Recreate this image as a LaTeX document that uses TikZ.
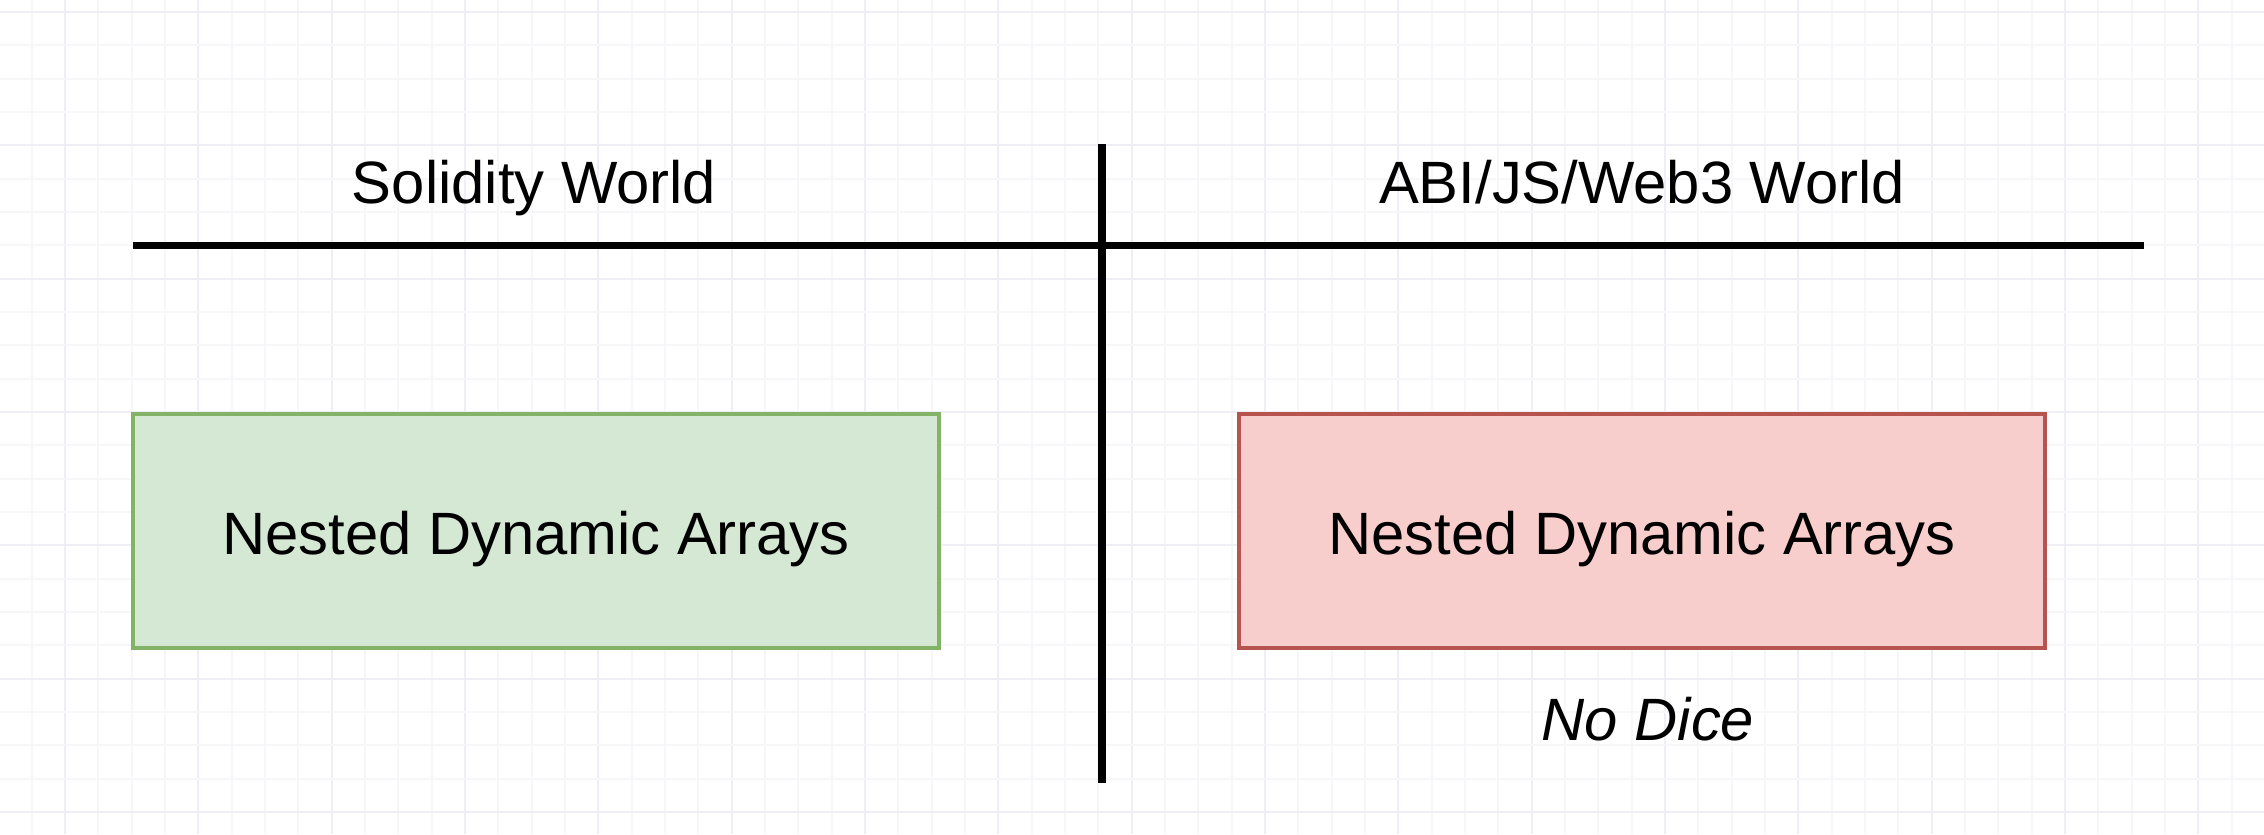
\documentclass[tikz,border=0pt]{standalone}
\usepackage{fontspec}
\setmainfont{Liberation Sans}
\usepackage{tikz}
\usetikzlibrary{calc, positioning}
\usepackage{xcolor}
\definecolor{okFill}{RGB}{213, 232, 212}
\definecolor{okLine}{RGB}{130, 179, 102}
\definecolor{badFill}{RGB}{248, 206, 204}
\definecolor{badLine}{RGB}{184, 84, 80}
\definecolor{gridMinor}{RGB}{247, 247, 250}
\definecolor{gridMajor}{RGB}{238, 238, 244}

\begin{document}
\begin{tikzpicture}[font=\fontsize{17}{20}\selectfont,
    worldbox/.style={draw, line width=1.2pt, minimum width=8.06cm,
      minimum height=2.34cm, inner sep=0pt, text height=13.6pt, text depth=0pt},
    divider/.style={line width=2.2pt}]
  % page and faint canvas grid
  \useasboundingbox[fill=white] (0, 0) rectangle (22.64, 8.34);
  \foreach \i in {0,...,68} {
    \pgfmathtruncatemacro{\m}{mod(\i, 4)}
    \ifnum\m=2 \def\gc{gridMajor}\else \def\gc{gridMinor}\fi
    \draw[\gc, line width=0.5pt] ({-0.0167+\i/3}, 0) -- ++(0, 8.34);
  }
  \foreach \j in {0,...,24} {
    \pgfmathtruncatemacro{\m}{mod(\j, 4)}
    \ifnum\m=0 \def\gc{gridMajor}\else \def\gc{gridMinor}\fi
    \draw[\gc, line width=0.5pt] (0, {0.22+\j/3}) -- ++(22.64, 0);
  }

  % the two worlds
  \coordinate (hl) at (1.33, 5.885);
  \coordinate (hr) at (21.44, 5.885);
  \coordinate (vt) at (11.02, 6.90);
  \coordinate (vb) at (11.02, 0.51);
  \draw[divider] (hl) -- (hr);
  \draw[divider] (vt) -- (vb);
  \node[anchor=base] (solidity) at (5.34, 6.30) {Solidity World};
  \node[anchor=base] (abi) at (16.42, 6.30) {ABI/JS/Web3 World};

  \node[worldbox, fill=okFill, draw=okLine] (solArr) at (5.36, 3.03)
    {Nested Dynamic Arrays};
  \node[worldbox, fill=badFill, draw=badLine] (abiArr) at (16.42, 3.03)
    {Nested Dynamic Arrays};
  \node[font=\fontsize{17}{20}\selectfont\itshape] (nodice) at (16.48, 1.15)
    {No Dice};
\end{tikzpicture}
\end{document}
